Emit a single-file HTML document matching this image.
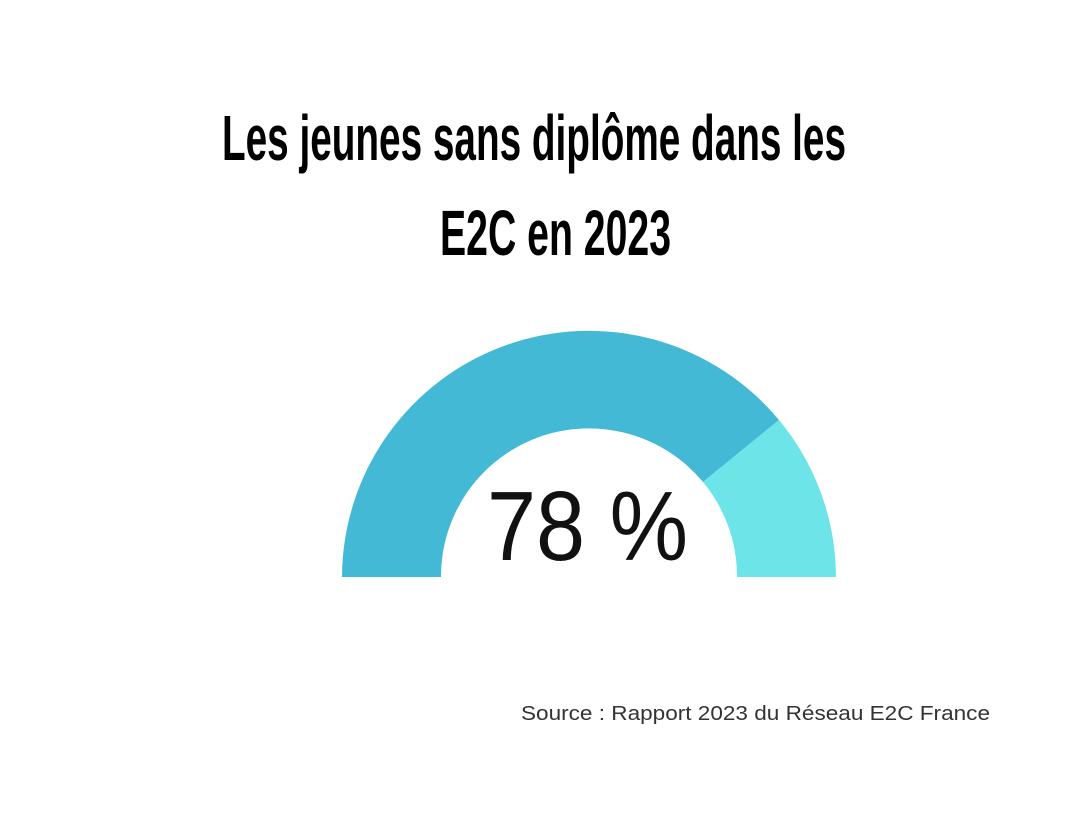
<!DOCTYPE html>
<html><head><meta charset="utf-8"><style>html,body{margin:0;padding:0;background:#fff}</style></head>
<body>
<svg width="1080" height="810" viewBox="0 0 1080 810" xmlns="http://www.w3.org/2000/svg">
<rect width="1080" height="810" fill="#fff"/>
<g font-family="Liberation Sans, sans-serif" font-weight="bold" fill="#000">
<text x="222" y="160" font-size="64" textLength="624" lengthAdjust="spacingAndGlyphs">Les jeunes sans diplôme dans les</text>
<text x="440" y="255" font-size="64" textLength="231" lengthAdjust="spacingAndGlyphs">E2C en 2023</text>
</g>
<path d="M342,577 A247,247 0 0 1 779,420 L703,482 A148,148 0 0 0 441,577 Z" fill="#43b9d6"/>
<path d="M779,420 A247,247 0 0 1 836,577 L737,577 A148,148 0 0 0 703,482 Z" fill="#6de4e8"/>
<text x="487" y="560" font-family="Liberation Sans, sans-serif" font-size="98" fill="#111" textLength="201" lengthAdjust="spacingAndGlyphs">78 %</text>
<text x="521" y="720" font-family="Liberation Sans, sans-serif" font-size="20" fill="#333" textLength="469" lengthAdjust="spacingAndGlyphs">Source : Rapport 2023 du Réseau E2C France</text>
</svg>
</body></html>
